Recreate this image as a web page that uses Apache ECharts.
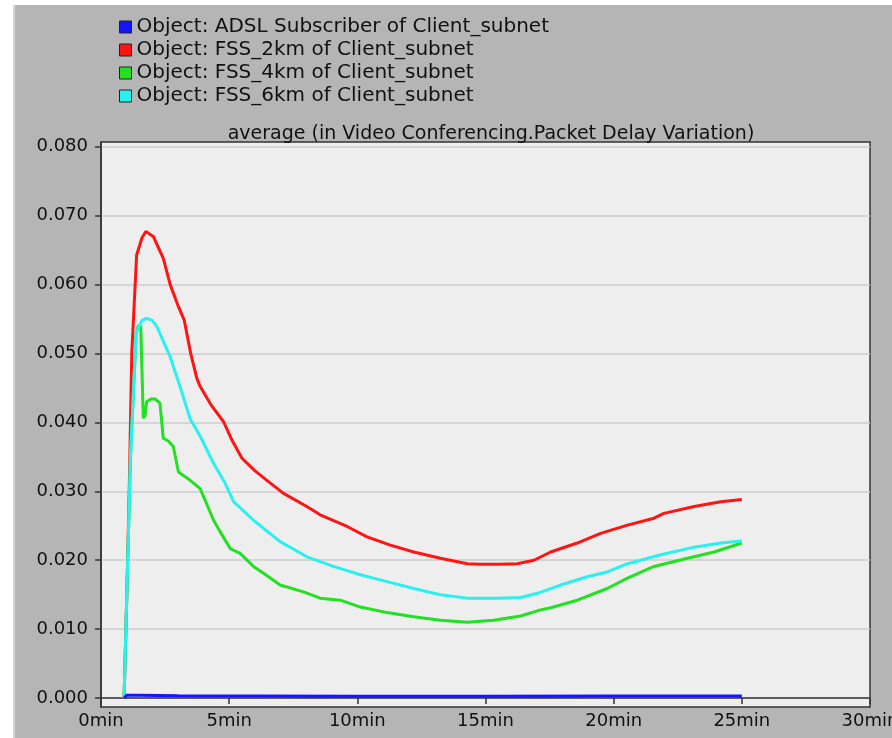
<!DOCTYPE html>
<html>
<head>
<meta charset="utf-8">
<script src="https://cdn.jsdelivr.net/npm/echarts@6/dist/echarts.min.js"></script>
<style>
html,body{margin:0;padding:0;background:#ffffff;}
#chart{width:892px;height:738px;}
</style>
</head>
<body>
<div id="chart"></div>
<script>
// ---- data (minutes, seconds of delay variation) ----
const seriesNames = [
  'Object: ADSL Subscriber of Client_subnet',
  'Object: FSS_2km of Client_subnet',
  'Object: FSS_4km of Client_subnet',
  'Object: FSS_6km of Client_subnet'
];
const titleText = 'average (in Video Conferencing.Packet Delay Variation)';
const yTickValues = [0, 0.01, 0.02, 0.03, 0.04, 0.05, 0.06, 0.07, 0.08];

const adslT = [0.9, 1.0, 1.5, 3, 6, 10, 15, 20, 25];
const adslV = [0, 0.0004, 0.0004, 0.00035, 0.0003, 0.00025, 0.00025, 0.00028, 0.0003];

const fss2T = [0.9, 1.0, 1.1, 1.2, 1.39, 1.6, 1.75, 2.04, 2.43, 2.7, 3.0, 3.25, 3.5, 3.74, 3.87, 4.3, 4.78, 5.1, 5.5, 6.0, 6.47, 7.12, 8.03, 8.55, 9.6, 10.38, 11.29, 12.2, 13.24, 14.29, 14.8, 15.5, 16.24, 16.89, 17.54, 18.58, 19.49, 20.54, 21.57, 21.96, 23.14, 24.18, 25.0];
const fss2V = [0, 0.014, 0.030, 0.050, 0.0643, 0.0668, 0.0677, 0.0670, 0.0638, 0.0600, 0.0570, 0.0548, 0.0500, 0.0464, 0.0452, 0.0425, 0.0401, 0.0375, 0.0348, 0.0330, 0.0316, 0.0297, 0.0278, 0.0266, 0.0249, 0.0234, 0.0222, 0.0212, 0.0203, 0.0195, 0.0194, 0.0194, 0.0195, 0.0200, 0.0212, 0.0225, 0.0239, 0.0251, 0.0261, 0.0268, 0.0278, 0.0285, 0.0288];

const fss4T = [0.9, 1.15, 1.37, 1.45, 1.55, 1.65, 1.72, 1.78, 1.95, 2.11, 2.3, 2.43, 2.63, 2.82, 3.02, 3.48, 3.87, 4.39, 4.75, 5.04, 5.43, 5.95, 6.34, 6.99, 7.9, 8.55, 9.34, 10.12, 11.16, 12.2, 13.24, 14.29, 15.32, 16.37, 17.15, 17.54, 18.58, 19.75, 20.54, 21.57, 22.88, 23.92, 25.0];
const fss4V = [0, 0.035, 0.053, 0.054, 0.054, 0.0406, 0.0410, 0.0430, 0.0434, 0.0434, 0.0428, 0.0377, 0.0373, 0.0365, 0.0328, 0.0316, 0.0304, 0.0258, 0.0235, 0.0217, 0.0210, 0.0191, 0.0181, 0.0164, 0.0154, 0.0145, 0.0142, 0.0132, 0.0124, 0.0118, 0.0113, 0.0110, 0.0113, 0.0119, 0.0128, 0.0131, 0.0142, 0.0159, 0.0174, 0.0191, 0.0203, 0.0212, 0.0225];

const fss6T = [0.9, 1.15, 1.37, 1.6, 1.78, 2.0, 2.18, 2.7, 3.1, 3.48, 3.87, 4.4, 4.84, 5.17, 5.95, 6.99, 8.03, 9.07, 10.12, 11.16, 12.2, 13.24, 14.29, 14.8, 15.5, 16.37, 17.02, 17.93, 18.97, 19.75, 20.54, 21.84, 23.14, 24.18, 25.0];
const fss6V = [0, 0.035, 0.053, 0.0548, 0.0551, 0.0548, 0.0539, 0.0495, 0.0450, 0.0405, 0.0380, 0.0340, 0.0312, 0.0285, 0.0258, 0.0227, 0.0205, 0.0191, 0.0179, 0.0169, 0.0159, 0.0150, 0.0145, 0.0145, 0.0145, 0.0146, 0.0152, 0.0164, 0.0176, 0.0183, 0.0195, 0.0208, 0.0219, 0.0225, 0.0228];

const seriesColors = ['#1414ff', '#ff1414', '#22e022', '#2af0f0'];

function pairs(t, v) { return t.map((x, i) => [x, v[i]]); }
const seriesData = [pairs(adslT, adslV), pairs(fss2T, fss2V), pairs(fss4T, fss4V), pairs(fss6T, fss6V)];

const FONT = 'DejaVu Sans';
const chart = echarts.init(document.getElementById('chart'), null, {renderer: 'canvas'});
chart.setOption({
  animation: false,
  backgroundColor: '#ffffff',
  graphic: [
    {type: 'rect', left: 13, top: 5, z: -10, shape: {width: 879, height: 733}, style: {fill: '#b5b5b5'}},
    {type: 'rect', left: 13, top: 5, z: -9, shape: {width: 2, height: 733}, style: {fill: '#d6d6d6'}}
  ],
  title: {
    text: titleText,
    left: 486, top: 120, textAlign: 'center',
    textStyle: {fontFamily: FONT, fontSize: 19, fontWeight: 'normal', color: '#111', lineHeight: 19}
  },
  legend: {
    orient: 'vertical', left: 114, top: 12,
    itemWidth: 12, itemHeight: 12, itemGap: 3,
    icon: 'rect',
    itemStyle: {borderColor: '#222', borderWidth: 1},
    textStyle: {fontFamily: FONT, fontSize: 20, color: '#111', lineHeight: 18},
    data: seriesNames
  },
  grid: {
    left: 101, right: 22, top: 142, bottom: 31,
    outerBoundsMode: 'none', containLabel: false,
    show: true, backgroundColor: '#eeeeee', borderColor: '#333', borderWidth: 1.5
  },
  xAxis: {
    type: 'value', min: 0, max: 30, interval: 5,
    axisLine: {show: true, lineStyle: {color: '#333', width: 1.5}},
    axisTick: {show: true, length: 6, lineStyle: {color: '#333', width: 1.5}},
    axisLabel: {formatter: '{value}min', fontFamily: FONT, fontSize: 18, color: '#111', margin: 5, showMaxLabel: true, showMinLabel: true},
    splitLine: {show: false}
  },
  yAxis: {
    type: 'value', min: -0.0013, max: 0.0807,
    axisLine: {show: true, lineStyle: {color: '#333', width: 1.5}},
    axisTick: {show: true, length: 6, customValues: yTickValues, lineStyle: {color: '#333', width: 1.5}},
    axisLabel: {customValues: yTickValues, formatter: v => v.toFixed(3), fontFamily: FONT, fontSize: 18, color: '#111', margin: 13},
    splitLine: {show: true, lineStyle: {color: '#cdcdcd', width: 1.5}}
  },
  series: seriesNames.map((name, i) => ({
    name: name, type: 'line', data: seriesData[i], showSymbol: false, symbol: 'none',
    color: seriesColors[i], lineStyle: {width: 3, color: seriesColors[i]}, z: i === 0 ? 5 : 3
  }))
});
</script>
</body>
</html>
